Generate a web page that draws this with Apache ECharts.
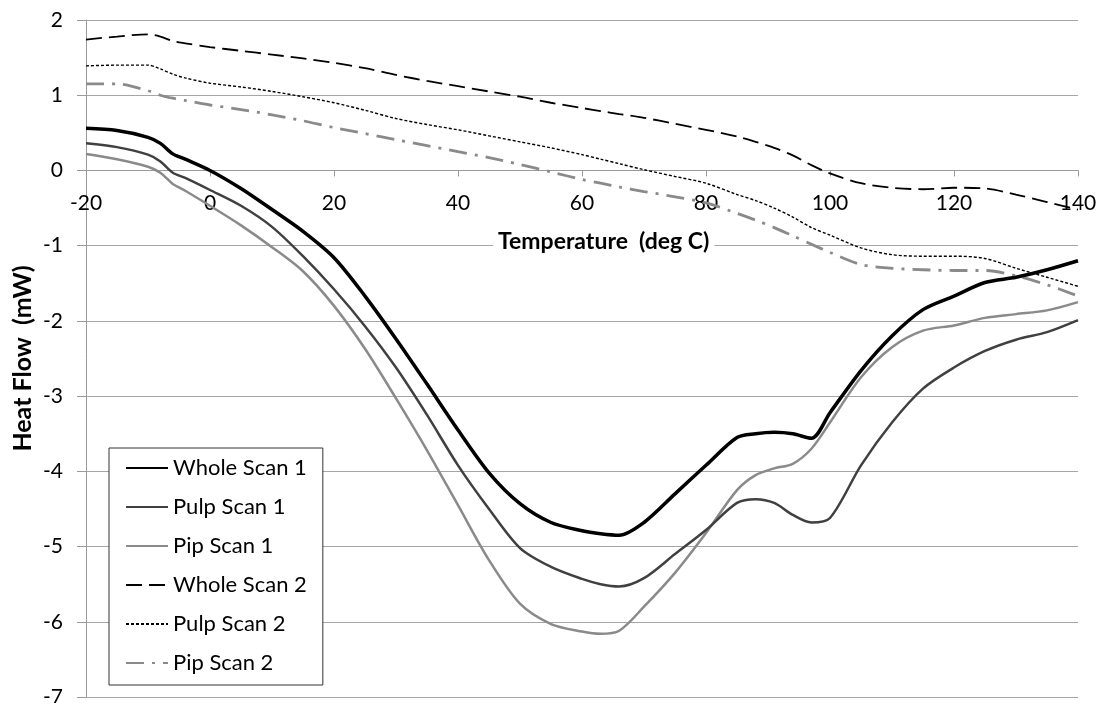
<!DOCTYPE html>
<html>
<head>
<meta charset="utf-8">
<script src="https://cdn.jsdelivr.net/npm/echarts@6/dist/echarts.min.js"></script>
<style>
html,body{margin:0;padding:0;background:#fff;}
#chart{width:1099px;height:703px;}
</style>
</head>
<body>
<div id="chart"></div>
<script>
const temps = [-20,-15,-10,-8,-6,-4,0,5,10,15,20,25,30,35,40,45,50,55,60,63,66,70,75,80,85,88,91,94,97,100,105,110,115,120,125,130,135,140];

const wholeScan1 = [0.56,0.53,0.44,0.36,0.22,0.15,0.00,-0.24,-0.52,-0.81,-1.16,-1.67,-2.24,-2.84,-3.45,-4.02,-4.43,-4.68,-4.79,-4.83,-4.85,-4.68,-4.30,-3.92,-3.55,-3.50,-3.48,-3.50,-3.56,-3.22,-2.66,-2.20,-1.85,-1.67,-1.49,-1.42,-1.32,-1.20];
const pulpScan1 = [0.36,0.31,0.21,0.12,-0.03,-0.10,-0.26,-0.47,-0.75,-1.14,-1.58,-2.07,-2.62,-3.25,-3.92,-4.50,-5.02,-5.27,-5.43,-5.50,-5.53,-5.42,-5.10,-4.78,-4.42,-4.37,-4.42,-4.58,-4.68,-4.62,-3.92,-3.35,-2.90,-2.62,-2.40,-2.25,-2.15,-1.99];
const pipScan1 = [0.22,0.15,0.05,-0.03,-0.18,-0.27,-0.47,-0.73,-1.02,-1.34,-1.80,-2.37,-3.03,-3.72,-4.45,-5.18,-5.76,-6.03,-6.13,-6.16,-6.12,-5.80,-5.35,-4.82,-4.25,-4.05,-3.96,-3.90,-3.70,-3.35,-2.75,-2.35,-2.13,-2.06,-1.96,-1.91,-1.86,-1.75];
const wholeScan2 = [1.74,1.78,1.81,1.78,1.72,1.69,1.64,1.59,1.54,1.49,1.43,1.36,1.27,1.19,1.12,1.05,0.98,0.90,0.83,0.79,0.75,0.70,0.62,0.54,0.45,0.38,0.30,0.20,0.07,-0.04,-0.17,-0.23,-0.25,-0.23,-0.24,-0.32,-0.42,-0.52];
const pulpScan2 = [1.39,1.40,1.40,1.35,1.28,1.23,1.16,1.11,1.05,0.98,0.90,0.80,0.69,0.61,0.54,0.46,0.38,0.30,0.21,0.15,0.09,0.01,-0.08,-0.17,-0.32,-0.40,-0.50,-0.62,-0.76,-0.86,-1.03,-1.12,-1.14,-1.14,-1.17,-1.30,-1.42,-1.54];
const pipScan2 = [1.15,1.15,1.06,1.00,0.96,0.93,0.87,0.81,0.74,0.66,0.57,0.49,0.41,0.33,0.25,0.17,0.08,-0.02,-0.12,-0.17,-0.22,-0.28,-0.35,-0.43,-0.57,-0.66,-0.76,-0.87,-0.98,-1.09,-1.25,-1.30,-1.32,-1.33,-1.33,-1.40,-1.52,-1.67];

const seriesNames = ['Whole Scan 1','Pulp Scan 1','Pip Scan 1','Whole Scan 2','Pulp Scan 2','Pip Scan 2'];
const xTicks = [-20,0,20,40,60,80,100,120,140];
const yTicks = [-7,-6,-5,-4,-3,-2,-1,0,1,2];

const FONT = 'Lato';
const pair = arr => temps.map((t,i)=>[t,arr[i]]);
const styles = [
  {color:'#000000', width:3.5, type:'solid'},
  {color:'#404040', width:2.5, type:'solid'},
  {color:'#8a8a8a', width:2.5, type:'solid'},
  {color:'#000000', width:1.8, type:[16,7]},
  {color:'#000000', width:1.4, type:[3,2]},
  {color:'#8a8a8a', width:2.8, type:[18,8,3,8]}
];
const values = [wholeScan1,pulpScan1,pipScan1,wholeScan2,pulpScan2,pipScan2];

// grid geometry
const GRID_TOP = 20, GRID_BOTTOM = 6, CHART_H = 703;
const yMin = yTicks[0], yMax = yTicks[yTicks.length-1];
const plotH = CHART_H - GRID_TOP - GRID_BOTTOM;
// place the x axis on the zero line of the y scale
const zeroOffset = -plotH * (0 - yMin) / (yMax - yMin);

const chart = echarts.init(document.getElementById('chart'), null, {renderer:'canvas'});
chart.setOption({
  animation:false,
  backgroundColor:'#ffffff',
  grid:{left:86, right:21, top:GRID_TOP, bottom:GRID_BOTTOM, containLabel:false, outerBoundsMode:'none'},
  xAxis:{
    type:'value', min:xTicks[0], max:xTicks[xTicks.length-1], interval:20,
    position:'bottom', offset:zeroOffset,
    axisLine:{show:true, onZero:false, lineStyle:{color:'#9a9a9a', width:1}},
    axisTick:{show:true, length:6, lineStyle:{color:'#9a9a9a'}},
    axisLabel:{margin:22, color:'#000', fontFamily:FONT, fontSize:21},
    splitLine:{show:false}
  },
  yAxis:{
    type:'value', min:yMin, max:yMax, interval:1,
    name:'Heat Flow  (mW)', nameLocation:'middle', nameGap:51, nameRotate:90,
    nameMoveOverlap:false,
    nameTextStyle:{fontFamily:FONT, fontWeight:'bold', fontSize:25, color:'#000'},
    axisLine:{show:true, onZero:false, lineStyle:{color:'#9a9a9a', width:1}},
    axisTick:{show:true, length:9, lineStyle:{color:'#9a9a9a'}},
    axisLabel:{margin:23, color:'#000', fontFamily:FONT, fontSize:21},
    splitLine:{show:true, lineStyle:{color:'#a6a6a6', width:1}}
  },
  legend:{
    orient:'vertical', left:109, top:448,
    data:seriesNames,
    backgroundColor:'#ffffff', borderColor:'#333333', borderWidth:1,
    padding:[9,16,11,16], itemGap:17, itemWidth:42, itemHeight:14,
    itemStyle:{opacity:0},
    textStyle:{fontFamily:FONT, fontSize:22, color:'#000'}
  },
  graphic:[{
    type:'text', left:493, top:229, z:100,
    style:{text:'Temperature  (deg C)', font:'bold 23px Lato', fill:'#000',
      backgroundColor:'#ffffff', padding:[1,5,1,5]}
  }],
  series: seriesNames.map((n,i)=>({
    name:n, type:'line', data:pair(values[i]),
    showSymbol:false, symbol:'none', smooth:0.3,
    lineStyle:{color:styles[i].color, width:styles[i].width, type:styles[i].type},
    itemStyle:{color:styles[i].color},
    z: 10-i
  }))
});
</script>
</body>
</html>
